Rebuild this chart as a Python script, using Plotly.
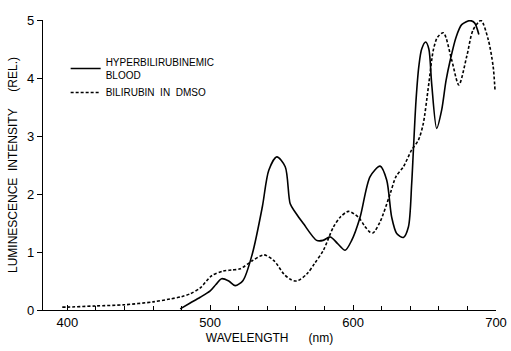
import plotly.graph_objects as go

# Hyperbilirubinemic blood (solid)
blood_wl = [479, 486, 493, 500, 504, 508, 513, 517.5, 523, 529.5, 536.5, 541, 546.6, 552.5, 556,
            559.4, 565.2, 574.5, 579, 584, 589, 594.4, 599, 604.9, 611.9, 618.9, 623.5, 627,
            630.5, 635.2, 638.7, 641, 642.2, 644, 646, 648, 650.8, 653, 655, 658.5, 662, 665,
            668, 672, 676, 681.8, 685, 688]
blood_val = [0.02, 0.12, 0.22, 0.33, 0.44, 0.54, 0.5, 0.42, 0.51, 0.97, 1.78, 2.41, 2.64, 2.47, 1.83,
             1.69, 1.49, 1.2, 1.2, 1.26, 1.15, 1.03, 1.2, 1.6, 2.3, 2.48, 2.24, 1.6,
             1.32, 1.25, 1.43, 2.18, 2.76, 3.6, 4.2, 4.5, 4.62, 4.5, 3.9, 3.13, 3.45, 3.95,
             4.31, 4.7, 4.92, 4.99, 4.95, 4.75]

# Bilirubin in DMSO (dashed)
dmso_wl = [396.5, 400, 420, 440, 460, 472, 480, 486, 493, 501, 509, 515, 521, 529.5, 537.6, 544.6,
           551.6, 556, 560.6, 567.6, 573, 579.2, 586.2, 591, 596.7, 603.7, 608, 611.9, 614, 618.9,
           625.9, 630, 635.2, 641, 645.7, 649, 652.7, 656.2, 659, 663.2, 669, 674, 679.5, 684,
           689.5, 694.6, 698, 699.3]
dmso_val = [0.05, 0.05, 0.07, 0.09, 0.14, 0.19, 0.23, 0.28, 0.38, 0.59, 0.67, 0.69, 0.71, 0.85, 0.95, 0.85,
            0.62, 0.53, 0.5, 0.62, 0.8, 1.03, 1.43, 1.6, 1.7, 1.6, 1.45, 1.34, 1.33, 1.52,
            2.0, 2.3, 2.47, 2.76, 2.93, 3.2, 3.85, 4.49, 4.7, 4.78, 4.31, 3.88, 4.37, 4.83,
            4.99, 4.66, 4.2, 3.79]

x_ticks = [400, 500, 600, 700]
y_ticks = [0, 1, 2, 3, 4, 5]

FONT = "Liberation Sans, Arial, sans-serif"

fig = go.Figure()
fig.add_trace(go.Scatter(x=blood_wl, y=blood_val, mode="lines",
                         name="HYPERBILIRUBINEMIC<br>BLOOD",
                         line=dict(color="black", width=1.6, shape="spline", smoothing=0.8)))
fig.add_trace(go.Scatter(x=dmso_wl, y=dmso_val, mode="lines",
                         name="BILIRUBIN  IN  DMSO",
                         line=dict(color="black", width=1.6, dash="3px,2px", shape="spline", smoothing=0.8)))

fig.update_layout(
    width=511, height=351,
    margin=dict(l=43, r=15, t=20, b=41, autoexpand=False),
    paper_bgcolor="white", plot_bgcolor="white",
    font=dict(family=FONT, color="black", size=13),
    showlegend=True,
    legend=dict(x=0.05, y=0.9, xanchor="left", yanchor="top",
                font=dict(size=10, family=FONT), bgcolor="rgba(0,0,0,0)",
                itemwidth=30, tracegroupgap=6),
    xaxis=dict(range=[383, 700], tickvals=x_ticks, ticks="inside", ticklen=5,
               tickcolor="black", showline=True, linecolor="black", linewidth=1.2,
               showgrid=False, zeroline=False, automargin=False,
               minor=dict(dtick=20, tick0=400, ticks="inside", ticklen=4, tickcolor="black"),
               title=dict(text="WAVELENGTH&nbsp;&nbsp;&nbsp;&nbsp;&nbsp;&nbsp;(nm)", font=dict(size=12), standoff=4),
               tickfont=dict(size=13)),
    yaxis=dict(range=[0, 5], tickvals=y_ticks, ticks="outside", ticklen=5,
               tickcolor="black", showline=True, linecolor="black", linewidth=1.2,
               showgrid=False, zeroline=False, automargin=False,
               title=dict(text="LUMINESCENCE  INTENSITY&nbsp;&nbsp;&nbsp;&nbsp;&nbsp;(REL.)", font=dict(size=12), standoff=6),
               tickfont=dict(size=13)),
)

fig.write_html("out.html")
